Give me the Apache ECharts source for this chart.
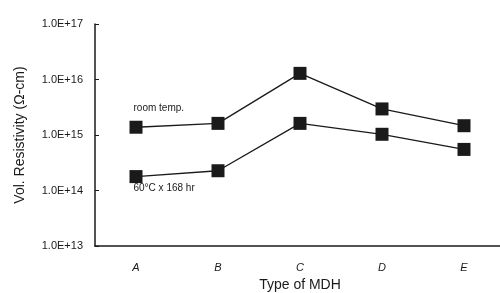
<!DOCTYPE html>
<html>
<head>
<meta charset="utf-8">
<script src="https://cdn.jsdelivr.net/npm/echarts@6/dist/echarts.min.js"></script>
<style>
  html, body { margin: 0; padding: 0; background: #fff; }
  #chart { width: 500px; height: 293px; }
</style>
</head>
<body>
<div id="chart"></div>
<script>
// data
const mdhTypes = ['A', 'B', 'C', 'D', 'E'];
const roomTemp = [1.38e15, 1.62e15, 1.29e16, 2.95e15, 1.47e15];
const heated = [1.78e14, 2.27e14, 1.62e15, 1.03e15, 5.5e14];
const seriesNames = ['room temp.', '60°C x 168 hr'];

const ink = '#1a1a1a';
const font = 'Liberation Sans, Arial, sans-serif';

// put the series name next to the first point
const withLabel = (values, name, pos) => values.map((v, i) => i === 0
    ? {value: v, label: {show: true, formatter: name, position: pos}}
    : v);

const myChart = echarts.init(document.getElementById('chart'));
const option = {
    backgroundColor: '#fff',
    animation: false,
    textStyle: {fontFamily: font, color: ink},
    grid: {left: 95, top: 24, width: 410, bottom: 47, outerBoundsMode: 'none'},
    xAxis: {
        type: 'category',
        data: mdhTypes,
        name: 'Type of MDH',
        nameLocation: 'middle',
        nameGap: 30,
        nameTextStyle: {fontSize: 14, color: ink, fontFamily: font},
        axisLine: {lineStyle: {color: ink, width: 1.5}},
        axisTick: {inside: true, length: 4, lineStyle: {color: ink}},
        axisLabel: {margin: 16, fontSize: 11, fontStyle: 'italic', color: ink}
    },
    yAxis: {
        type: 'log',
        logBase: 10,
        min: 1e13,
        max: 1e17,
        name: 'Vol. Resistivity (Ω-cm)',
        nameLocation: 'middle',
        nameGap: 68,
        nameTextStyle: {fontSize: 14, color: ink, fontFamily: font},
        axisLine: {show: true, lineStyle: {color: ink, width: 1.5}},
        axisTick: {show: true, inside: true, length: 4, lineStyle: {color: ink}},
        splitLine: {show: false},
        axisLabel: {
            margin: 12,
            fontSize: 11,
            color: ink,
            formatter: v => '1.0E+' + Math.round(Math.log10(v))
        }
    },
    series: [
        {
            name: seriesNames[0],
            type: 'line',
            data: withLabel(roomTemp, seriesNames[0], [4, -17]),
            symbol: 'rect',
            symbolSize: 13,
            itemStyle: {color: ink},
            lineStyle: {color: ink, width: 1.3},
            label: {fontSize: 10, color: ink}
        },
        {
            name: seriesNames[1],
            type: 'line',
            data: withLabel(heated, seriesNames[1], [4, 13]),
            symbol: 'rect',
            symbolSize: 13,
            itemStyle: {color: ink},
            lineStyle: {color: ink, width: 1.3},
            label: {fontSize: 10, color: ink}
        }
    ]
};
myChart.setOption(option);
</script>
</body>
</html>
